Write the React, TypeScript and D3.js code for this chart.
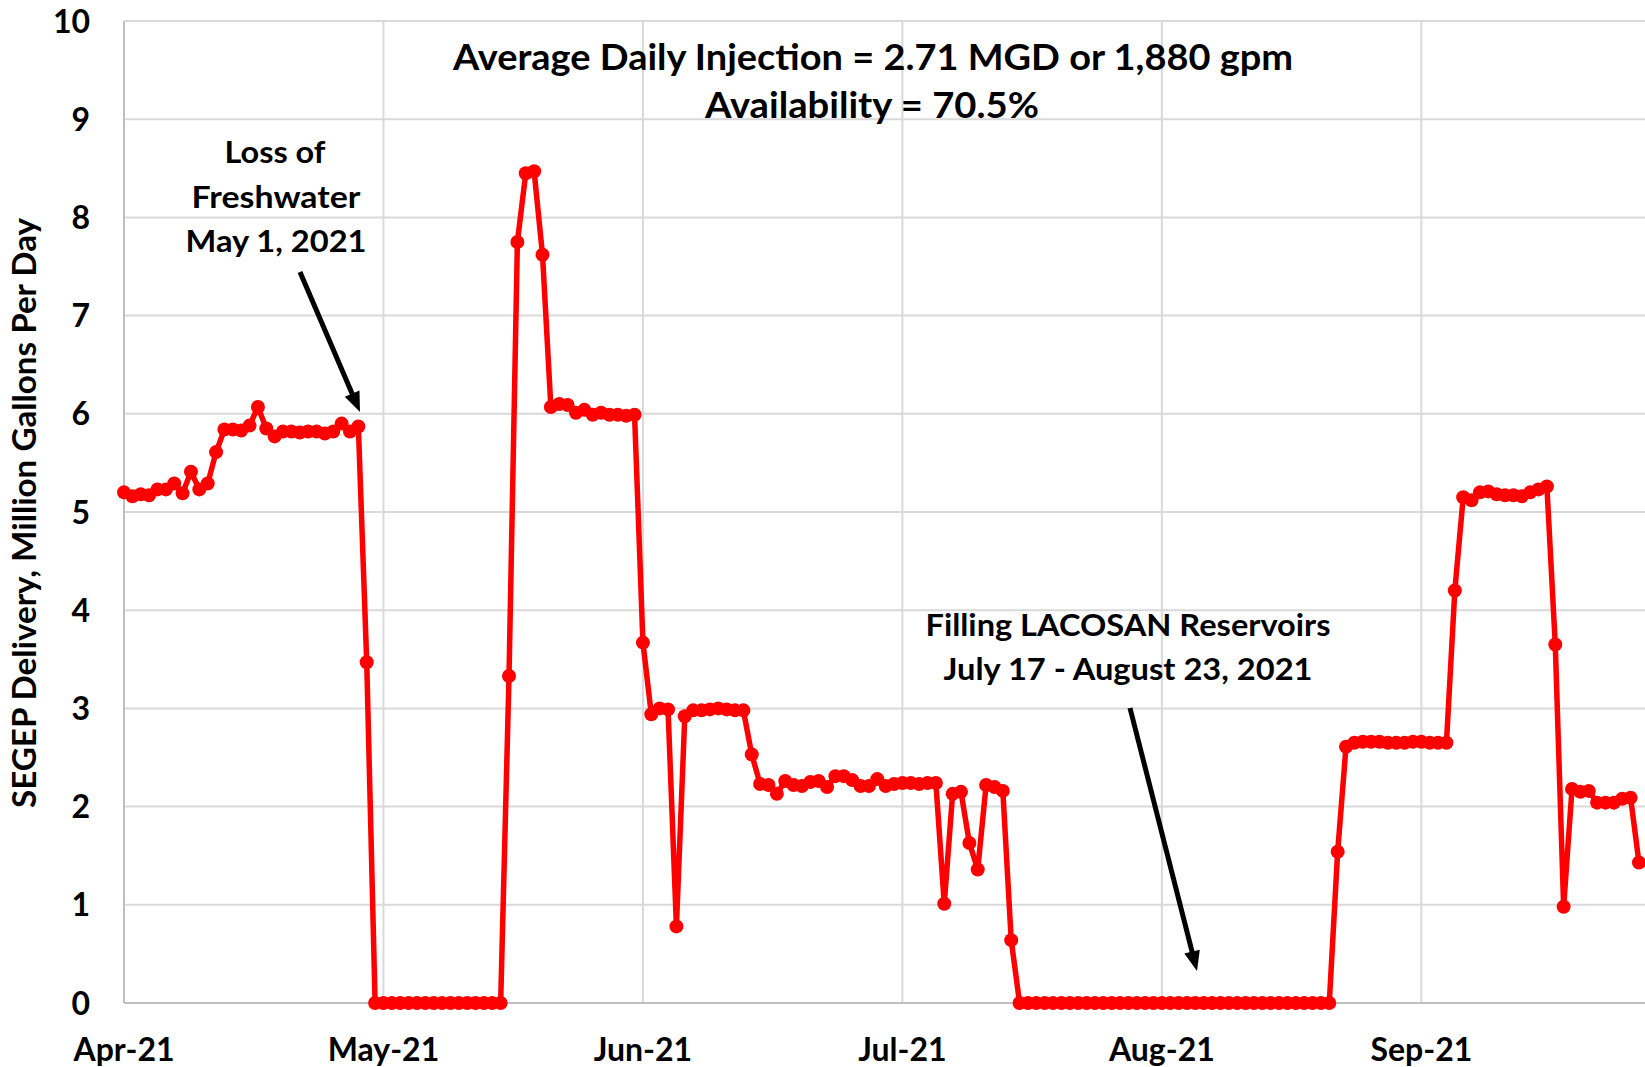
import React from "react";
import * as d3 from "d3";

// ---- Data (daily SEGEP delivery, MGD) ----
const aprValues = [5.20, 5.16, 5.18, 5.17, 5.23, 5.23, 5.29, 5.19, 5.41, 5.23, 5.29, 5.61, 5.84, 5.84, 5.83, 5.88, 6.07, 5.85, 5.77, 5.82, 5.82, 5.81, 5.82, 5.82, 5.80, 5.82, 5.90, 5.82, 5.87, 3.47];
const mayValues = [0, 0, 0, 0, 0, 0, 0, 0, 0, 0, 0, 0, 0, 0, 0, 0, 3.33, 7.75, 8.45, 8.47, 7.62, 6.07, 6.10, 6.09, 6.01, 6.04, 5.99, 6.01, 5.99, 5.99, 5.98];
const junValues = [5.99, 3.67, 2.94, 3.00, 2.99, 0.78, 2.92, 2.98, 2.98, 2.99, 3.00, 2.99, 2.98, 2.98, 2.53, 2.23, 2.22, 2.13, 2.26, 2.22, 2.21, 2.25, 2.26, 2.20, 2.31, 2.31, 2.27, 2.21, 2.21, 2.28];
const julValues = [2.21, 2.23, 2.24, 2.24, 2.23, 2.24, 2.24, 1.01, 2.13, 2.15, 1.63, 1.36, 2.22, 2.20, 2.16, 0.64, 0, 0, 0, 0, 0, 0, 0, 0, 0, 0, 0, 0, 0, 0, 0];
const augValues = [0, 0, 0, 0, 0, 0, 0, 0, 0, 0, 0, 0, 0, 0, 0, 0, 0, 0, 0, 0, 0, 0, 0, 1.54, 2.61, 2.65, 2.66, 2.66, 2.66, 2.65, 2.65];
const sepValues = [2.65, 2.66, 2.66, 2.65, 2.65, 2.65, 4.20, 5.15, 5.12, 5.20, 5.21, 5.18, 5.17, 5.17, 5.16, 5.20, 5.23, 5.26, 3.65, 0.98, 2.18, 2.15, 2.16, 2.04, 2.04, 2.04, 2.08, 2.09, 1.43];

const months = [
  { month: 3, values: aprValues },
  { month: 4, values: mayValues },
  { month: 5, values: junValues },
  { month: 6, values: julValues },
  { month: 7, values: augValues },
  { month: 8, values: sepValues },
];

const xTickDates = ["2021-04-01", "2021-05-02", "2021-06-02", "2021-07-03", "2021-08-03", "2021-09-03"];
const xTickLabels = ["Apr-21", "May-21", "Jun-21", "Jul-21", "Aug-21", "Sep-21"];
const yTicks = [0, 1, 2, 3, 4, 5, 6, 7, 8, 9, 10];

const titleLines = ["Average Daily Injection = 2.71 MGD or 1,880 gpm", "Availability = 70.5%"];
const lossLines = ["Loss of", "Freshwater", "May 1, 2021"];
const fillLines = ["Filling LACOSAN Reservoirs", "July 17 - August 23, 2021"];
const yAxisTitle = "SEGEP Delivery, Million Gallons Per Day";

const data = months.flatMap((m) =>
  m.values.map((v, i) => ({ date: new Date(Date.UTC(2021, m.month, i + 1)), value: v }))
);

// ---- Layout ----
const W = 1645;
const H = 1067;
const LEFT = 124;
const TOP = 21;
const BOTTOM = 1003;
const DAY_PX = 8.37;
const FONT = "Lato, 'Open Sans', 'Noto Sans', sans-serif";

function arrow(x1: number, y1: number, x2: number, y2: number, len = 20, wid = 16) {
  const dx = x2 - x1;
  const dy = y2 - y1;
  const L = Math.hypot(dx, dy);
  const ux = dx / L;
  const uy = dy / L;
  const bx = x2 - ux * len;
  const by = y2 - uy * len;
  const nx = -uy;
  const ny = ux;
  const pts = [
    [x2, y2],
    [bx + (nx * wid) / 2, by + (ny * wid) / 2],
    [bx - (nx * wid) / 2, by - (ny * wid) / 2],
  ];
  return (
    <g>
      <line x1={x1} y1={y1} x2={bx + ux * 2} y2={by + uy * 2} stroke="#000" strokeWidth={5} />
      <polygon points={pts.map((p) => p.join(",")).join(" ")} fill="#000" />
    </g>
  );
}

export default function App() {
  const x = d3
    .scaleUtc()
    .domain([new Date(Date.UTC(2021, 3, 1)), new Date(Date.UTC(2021, 9, 1))])
    .range([LEFT, LEFT + 183 * DAY_PX]);
  const y = d3.scaleLinear().domain([0, 10]).range([BOTTOM, TOP]);

  const line = d3
    .line<{ date: Date; value: number }>()
    .x((d) => x(d.date))
    .y((d) => y(d.value));

  const tickDates = xTickDates.map((s) => new Date(s + "T00:00:00Z"));

  return (
    <svg
      width={W}
      height={H}
      viewBox={`0 0 ${W} ${H}`}
      style={{ position: "absolute", left: 0, top: 0, background: "#fff" }}
      fontFamily={FONT}
      fontWeight="bold"
    >
      <rect x={0} y={0} width={W} height={H} fill="#fff" />
      {/* horizontal gridlines */}
      {yTicks.slice(1).map((t) => (
        <line key={"h" + t} x1={LEFT} x2={W} y1={y(t)} y2={y(t)} stroke="#D9D9D9" strokeWidth={2} />
      ))}
      {/* vertical gridlines */}
      {tickDates.slice(1).map((d, i) => (
        <line key={"v" + i} x1={x(d)} x2={x(d)} y1={TOP} y2={BOTTOM} stroke="#D9D9D9" strokeWidth={2} />
      ))}
      {/* axes */}
      <line x1={LEFT} x2={LEFT} y1={TOP} y2={BOTTOM} stroke="#BFBFBF" strokeWidth={2} />
      <line x1={LEFT} x2={W} y1={BOTTOM} y2={BOTTOM} stroke="#BFBFBF" strokeWidth={2} />

      {/* y tick labels */}
      {yTicks.map((t) => (
        <text key={"yl" + t} x={90} y={y(t)} dy="0.36em" textAnchor="end" fontSize={32} fill="#000">
          {t}
        </text>
      ))}
      {/* x tick labels */}
      {tickDates.map((d, i) => (
        <text key={"xl" + i} x={x(d)} y={1061} textAnchor="middle" fontSize={32} fill="#000">
          {xTickLabels[i]}
        </text>
      ))}

      {/* y axis title */}
      <text
        transform={`translate(36,513) rotate(-90)`}
        textAnchor="middle"
        fontSize={33}
        fill="#000"
        textLength={590}
        lengthAdjust="spacingAndGlyphs"
      >
        {yAxisTitle}
      </text>

      {/* series */}
      <path d={line(data) || ""} fill="none" stroke="#FF0000" strokeWidth={5.5} strokeLinejoin="round" />
      {data.map((d, i) => (
        <circle key={"c" + i} cx={x(d.date)} cy={y(d.value)} r={7} fill="#FF0000" />
      ))}

      {/* title */}
      <text x={873} y={70} textAnchor="middle" fontSize={36} fill="#000" textLength={840} lengthAdjust="spacingAndGlyphs">
        {titleLines[0]}
      </text>
      <text x={872} y={118} textAnchor="middle" fontSize={36} fill="#000" textLength={334} lengthAdjust="spacingAndGlyphs">
        {titleLines[1]}
      </text>

      {/* Loss of freshwater annotation */}
      <text x={275} y={163} textAnchor="middle" fontSize={31} fill="#000" textLength={101} lengthAdjust="spacingAndGlyphs">
        {lossLines[0]}
      </text>
      <text x={276} y={208} textAnchor="middle" fontSize={31} fill="#000" textLength={169} lengthAdjust="spacingAndGlyphs">
        {lossLines[1]}
      </text>
      <text x={276} y={252} textAnchor="middle" fontSize={31} fill="#000" textLength={181} lengthAdjust="spacingAndGlyphs">
        {lossLines[2]}
      </text>
      {arrow(300, 272, 360, 412)}

      {/* Filling annotation */}
      <text x={1128} y={636} textAnchor="middle" fontSize={31} fill="#000" textLength={405} lengthAdjust="spacingAndGlyphs">
        {fillLines[0]}
      </text>
      <text x={1128} y={680} textAnchor="middle" fontSize={31} fill="#000" textLength={369} lengthAdjust="spacingAndGlyphs">
        {fillLines[1]}
      </text>
      {arrow(1130, 708, 1197, 971)}
    </svg>
  );
}
